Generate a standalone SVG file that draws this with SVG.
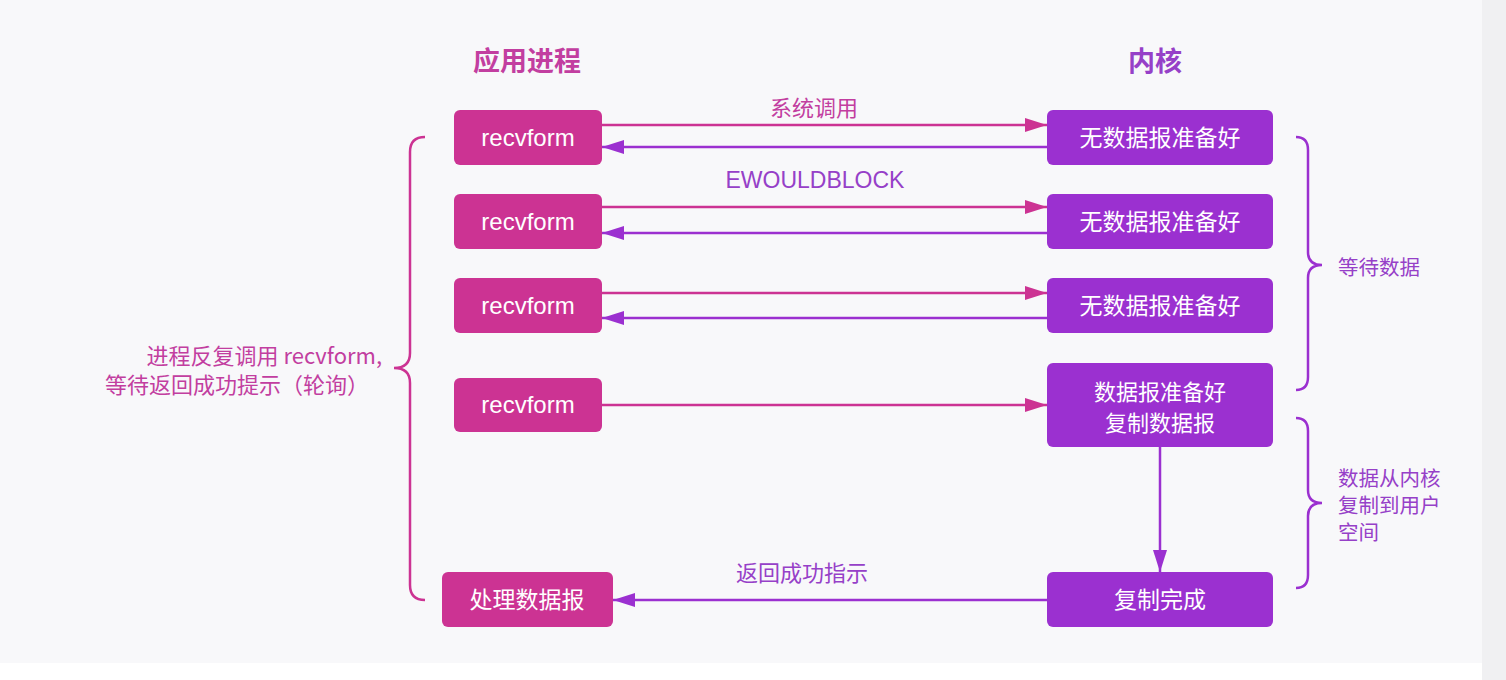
<svg xmlns="http://www.w3.org/2000/svg" width="1506" height="680" viewBox="0 0 1506 680">
<style>
.bp{fill:#cc3393}
.bv{fill:#9b30d0}
.t{font-family:"Noto Sans CJK SC","Liberation Sans",sans-serif;font-size:23px;fill:#fff;text-anchor:middle}
.t2{font-size:22px}
.e{font-family:"Liberation Sans",sans-serif;font-size:24px;fill:#fff;text-anchor:middle}
.lp{font-family:"Noto Sans CJK SC","Liberation Sans",sans-serif;font-size:22px;fill:#c23ea0}
.lv{font-family:"Noto Sans CJK SC","Liberation Sans",sans-serif;font-size:22px;fill:#9640c8}
.rs{font-size:20.5px}
.h{font-family:"Noto Sans CJK SC",sans-serif;font-size:27px;font-weight:bold;text-anchor:middle}
.cp{stroke:#cc3393;stroke-width:2.5;fill:none}
.cv{stroke:#9b30d0;stroke-width:2.5;fill:none}
</style>
<defs>
<marker id="ap" markerWidth="22" markerHeight="14" refX="22" refY="7" orient="auto" markerUnits="userSpaceOnUse" viewBox="0 0 22 14"><path d="M0,0L22,7L0,14z" fill="#cc3393"/></marker>
<marker id="av" markerWidth="22" markerHeight="14" refX="22" refY="7" orient="auto" markerUnits="userSpaceOnUse" viewBox="0 0 22 14"><path d="M0,0L22,7L0,14z" fill="#9b30d0"/></marker>
</defs>
<rect width="1506" height="680" fill="#ffffff"/>
<rect width="1482" height="663" fill="#f8f8fa"/>
<rect x="1482" width="24" height="680" fill="#f0f0f2"/>
<text class="h" x="527" y="71" fill="#c23ea0">应用进程</text>
<text class="h" x="1155" y="71" fill="#9640c8">内核</text>
<g id="connectors">
<line class="cp" x1="602" y1="125" x2="1047" y2="125" marker-end="url(#ap)"/>
<line class="cv" x1="1047" y1="147" x2="602" y2="147" marker-end="url(#av)"/>
<line class="cp" x1="602" y1="207" x2="1047" y2="207" marker-end="url(#ap)"/>
<line class="cv" x1="1047" y1="233" x2="602" y2="233" marker-end="url(#av)"/>
<line class="cp" x1="602" y1="293" x2="1047" y2="293" marker-end="url(#ap)"/>
<line class="cv" x1="1047" y1="318" x2="602" y2="318" marker-end="url(#av)"/>
<line class="cp" x1="602" y1="405" x2="1047" y2="405" marker-end="url(#ap)"/>
<line class="cv" x1="1160" y1="447" x2="1160" y2="572" marker-end="url(#av)"/>
<line class="cv" x1="1047" y1="600" x2="613" y2="600" marker-end="url(#av)"/>
<text class="lp" x="814" y="116" text-anchor="middle">系统调用</text>
<text class="lv" x="815" y="188" text-anchor="middle" style="font-family:'Liberation Sans',sans-serif;font-size:23px">EWOULDBLOCK</text>
<text class="lv" x="802" y="581" text-anchor="middle">返回成功指示</text>
</g>
<g id="p1"><rect class="bp" x="454" y="110" width="148" height="55" rx="6"/><text class="e" x="528" y="146">recvform</text></g>
<g id="p2"><rect class="bp" x="454" y="194" width="148" height="55" rx="6"/><text class="e" x="528" y="230">recvform</text></g>
<g id="p3"><rect class="bp" x="454" y="278" width="148" height="55" rx="6"/><text class="e" x="528" y="314">recvform</text></g>
<g id="p4"><rect class="bp" x="454" y="378" width="148" height="54" rx="6"/><text class="e" x="528" y="413">recvform</text></g>
<g id="p5"><rect class="bp" x="442" y="572" width="171" height="55" rx="6"/><text class="t" x="527" y="608">处理数据报</text></g>
<g id="k1"><rect class="bv" x="1047" y="110" width="226" height="55" rx="6"/><text class="t" x="1160" y="146">无数据报准备好</text></g>
<g id="k2"><rect class="bv" x="1047" y="194" width="226" height="55" rx="6"/><text class="t" x="1160" y="230">无数据报准备好</text></g>
<g id="k3"><rect class="bv" x="1047" y="278" width="226" height="55" rx="6"/><text class="t" x="1160" y="314">无数据报准备好</text></g>
<g id="k4"><rect class="bv" x="1047" y="363" width="226" height="84" rx="6"/><text class="t t2" x="1160" y="400">数据报准备好</text><text class="t t2" x="1160" y="431">复制数据报</text></g>
<g id="k5"><rect class="bv" x="1047" y="572" width="226" height="55" rx="6"/><text class="t" x="1160" y="608">复制完成</text></g>
<g id="brace-left">
<path class="cp" d="M425,137 Q410,137 410,152 L410,353 Q410,368 394,368 Q410,368 410,383 L410,585 Q410,600 425,600"/>
<text class="lp" x="382" y="364" text-anchor="end">进程反复调用 recvform,</text>
<text class="lp" x="105" y="393">等待返回成功提示（轮询）</text>
</g>
<g id="brace-wait">
<path class="cv" d="M1296,137 Q1308,137 1308,150 L1308,252 Q1308,265 1322,265 Q1308,265 1308,278 L1308,377 Q1308,390 1296,390"/>
<text class="lv rs" x="1338" y="275">等待数据</text>
</g>
<g id="brace-copy">
<path class="cv" d="M1296,418 Q1308,418 1308,431 L1308,490 Q1308,503 1322,503 Q1308,503 1308,516 L1308,575 Q1308,588 1296,588"/>
<text class="lv rs" x="1338" y="486">数据从内核</text>
<text class="lv rs" x="1338" y="513">复制到用户</text>
<text class="lv rs" x="1338" y="540">空间</text>
</g>
</svg>
